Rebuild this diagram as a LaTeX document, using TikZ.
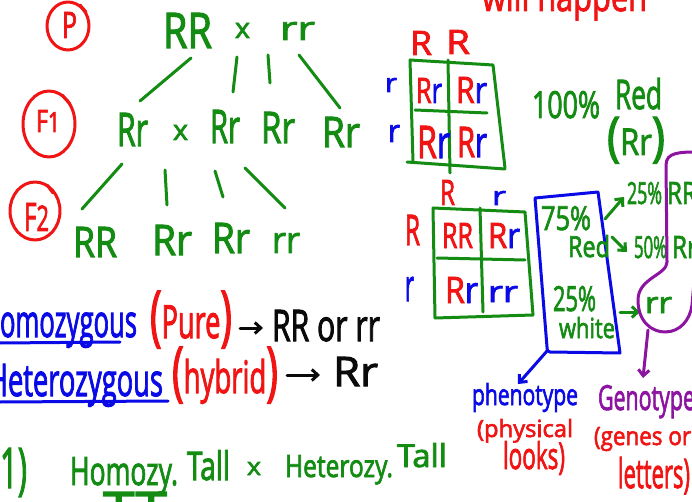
\documentclass[tikz,border=0pt]{standalone}
\usepackage{fontspec}
\setmainfont{Open Sans}[BoldFont={Open Sans}, BoldFeatures={FakeBold=2.5}]
\usepackage{graphicx}
\usetikzlibrary{arrows.meta}

\definecolor{hwgreen}{RGB}{20,140,20}
\definecolor{hwred}{RGB}{240,20,20}
\definecolor{hwblue}{RGB}{10,10,230}
\definecolor{hwpurple}{RGB}{140,20,160}
\definecolor{hwblack}{RGB}{10,10,10}

% marker-style text squeezed into a box of the given width and height (pt)
\newcommand\hwtext[3]{\resizebox{#1pt}{#2pt}{\bfseries #3}}
\newcommand\Rr{{\color{hwred}R}{\color{hwblue}r}}
% tall hand-drawn parentheses
\newcommand\lp{{\Large(}}
\newcommand\rp{{\Large)}}

\tikzset{
  hw/.style={anchor=base west, inner sep=0pt, outer sep=0pt},
  pen/.style={line width=3pt, line cap=round, line join=round},
  tip/.style={-{Straight Barb[length=6pt,width=11pt]}},
}

\begin{document}
\begin{tikzpicture}[x=1pt,y=-1pt]
\useasboundingbox (0,0) rectangle (692,502);
\clip (0,0) rectangle (692,502);
\fill[white] (0,0) rectangle (692,502);

% ---------- generation labels ----------
\draw[pen, hwred] (68,26) ellipse [x radius=21, y radius=24];
\draw[pen, hwred] (80,5) -- (86,12);
\draw[pen, hwred] (49,124) ellipse [x radius=26, y radius=33];
\draw[pen, hwred] (62,95) -- (70,104);
\draw[pen, hwred] (35,211) ellipse [x radius=25, y radius=29];
\draw[pen, hwred] (47,185) -- (53,193);
\node[hw, text=hwred] (labP) at (62,38) {\hwtext{15}{26}{P}};
\node[hw, text=hwred] (labF1) at (36,132) {\hwtext{24}{22}{F{\small 1}}};
\node[hw, text=hwred] (labF2) at (24,231) {\hwtext{25}{28}{F{\small 2}}};

% ---------- cross tree ----------
\node[hw, text=hwgreen] (pRR) at (163,48) {\hwtext{49}{35}{RR}};
\node[hw, text=hwgreen] (px) at (235,38) {\hwtext{15}{15}{x}};
\node[hw, text=hwgreen] (prr) at (280,40) {\hwtext{35}{18}{rr}};

\node[hw, text=hwgreen] (fa) at (117,146) {\hwtext{31}{33}{Rr}};
\node[hw, text=hwgreen] (fx) at (173,140) {\hwtext{15}{15}{x}};
\node[hw, text=hwgreen] (fb) at (210,143) {\hwtext{30}{33}{Rr}};
\node[hw, text=hwgreen] (fc) at (261,143) {\hwtext{34}{31}{Rr}};
\node[hw, text=hwgreen] (fd) at (322,147) {\hwtext{38}{30}{Rr}};

\node[hw, text=hwgreen] (ga) at (73,257) {\hwtext{44}{30}{RR}};
\node[hw, text=hwgreen] (gb) at (152,255) {\hwtext{40}{30}{Rr}};
\node[hw, text=hwgreen] (gc) at (212,253) {\hwtext{38}{30}{Rr}};
\node[hw, text=hwgreen] (gd) at (272,253) {\hwtext{28}{20}{rr}};

\begin{scope}[pen, hwgreen]
  \draw (191,58) -- (140,101);
  \draw (237,57) -- (233,92);
  \draw (268,55) -- (270,83);
  \draw (299,55) -- (340,108);
  \draw (122,164) -- (82,209);
  \draw (165,170) -- (167,205);
  \draw (215,171) -- (223,197);
  \draw (245,168) -- (285,208);
\end{scope}

% ---------- definitions ----------
\node[hw, text=hwblue] (homo) at (0,337) {\hwtext{137}{32}{\llap{H}omozygous}};
\draw[pen, hwblue] (0,343) -- (120,342);
\node[hw, text=hwred] (pure) at (150,338) {\hwtext{82}{47}{\lp Pure\rp}};
\coordinate (a1s) at (240,328);
\coordinate (a1e) at (263,328);
\draw[pen, hwblack, tip] (a1s) -- (a1e);
\node[hw, text=hwblack] (homoeg) at (272,341) {\hwtext{108}{31}{RR or rr}};

\node[hw, text=hwblue] (hetero) at (8,396) {\hwtext{155}{32}{\llap{H}eterozygous}};
\draw[pen, hwblue] (0,402) -- (168,401);
\node[hw, text=hwred] (hybrid) at (172,393) {\hwtext{106}{46}{\lp hybrid\rp}};
\coordinate (a2s) at (287,375);
\coordinate (a2e) at (320,375);
\draw[pen, hwblack, tip] (a2s) -- (a2e);
\node[hw, text=hwblack] (heteroeg) at (333,386) {\hwtext{45}{29}{Rr}};

% ---------- example line ----------
\node[hw, text=hwgreen] (qnum) at (0,488) {\hwtext{27}{40}{1)}};
\node[hw, text=hwgreen] (ex1) at (70,485) {\hwtext{108}{28}{Homozy.}};
\node[hw, text=hwgreen] (ex2) at (187,480) {\hwtext{43}{30}{Tall}};
\node[hw, text=hwgreen] (ex3) at (247,475) {\hwtext{14}{13}{x}};
\node[hw, text=hwgreen] (ex4) at (285,477) {\hwtext{108}{22}{Heterozy.}};
\node[hw, text=hwgreen] (ex5) at (397,467) {\hwtext{50}{24}{Tall}};
\node[hw, text=hwgreen] (ex6) at (103,530) {\hwtext{64}{38}{TT}};

% ---------- top heading ----------
\node[hw, text=hwred] (happen) at (482,11) {\hwtext{165}{30}{will happen}};

% ---------- Punnett square RR x rr ----------
\node[hw, text=hwred] (s1c1) at (410,55) {\hwtext{22}{24}{R}};
\node[hw, text=hwred] (s1c2) at (446,54) {\hwtext{24}{24}{R}};
\node[hw, text=hwblue] (s1r1) at (385,92) {\hwtext{12}{14}{r}};
\node[hw, text=hwblue] (s1r2) at (388,142) {\hwtext{12}{17}{r}};
\begin{scope}[pen, hwgreen]
  \draw (410,60) -- (493,65) -- (505,168);
  \draw (410,60) -- (413,162);
  \draw (407,162) -- (505,169);
  \draw (448,60) -- (450,173);
  \draw (415,110) -- (487,113);
\end{scope}
\node[hw] (s1a) at (416,103) {\hwtext{26}{25}{\Rr}};
\node[hw] (s1b) at (456,103) {\hwtext{31}{26}{\Rr}};
\node[hw] (s1c) at (417,158) {\hwtext{33}{32}{\Rr}};
\node[hw] (s1d) at (457,157) {\hwtext{30}{30}{\Rr}};

\node[hw, text=hwgreen] (hund) at (532,118) {\hwtext{68}{27}{100\%}};
\node[hw, text=hwgreen] (hundred) at (615,109) {\hwtext{47}{31}{Red}};
\node[hw, text=hwgreen] (hundrr) at (607,155) {\hwtext{58}{38}{\lp Rr\rp}};

% ---------- Punnett square Rr x Rr ----------
\node[hw, text=hwred] (s2c1) at (440,205) {\hwtext{15}{25}{R}};
\node[hw, text=hwblue] (s2c2) at (492,205) {\hwtext{14}{14}{r}};
\node[hw, text=hwred] (s2r1) at (405,245) {\hwtext{15}{30}{R}};
\node[hw, text=hwblue] (s2r2) at (405,301) {\hwtext{9}{24}{r}};
\begin{scope}[pen, hwgreen]
  \draw (433,208) -- (525,212) -- (533,315);
  \draw (433,208) -- (435,318) -- (533,315);
  \draw (480,208) -- (483,312);
  \draw (437,258) -- (525,260);
\end{scope}
\node[hw, text=hwred] (s2a) at (442,248) {\hwtext{31}{25}{RR}};
\node[hw] (s2b) at (488,248) {\hwtext{32}{25}{\Rr}};
\node[hw] (s2c) at (445,303) {\hwtext{33}{26}{\Rr}};
\node[hw, text=hwblue] (s2d) at (488,302) {\hwtext{30}{16}{rr}};

% ---------- phenotype box ----------
\draw[pen, hwblue] (535,198) -- (598,192) -- (620,353) -- (550,352)
  .. controls (547,352) and (547,350) .. (547,347) -- cycle;
\node[hw, text=hwgreen] (ph1) at (541,230) {\hwtext{50}{24}{75\%}};
\node[hw, text=hwgreen] (ph2) at (568,257) {\hwtext{42}{22}{Red}};
\node[hw, text=hwgreen] (ph3) at (553,311) {\hwtext{43}{25}{25\%}};
\node[hw, text=hwgreen] (ph4) at (559,338) {\hwtext{56}{21}{white}};
\coordinate (boxcorner) at (547,351);
\coordinate (phend) at (518,384);
\draw[pen, hwblue, tip] (boxcorner) -- (phend);
\node[hw, text=hwblue] (pheno) at (472,405) {\hwtext{106}{22}{phenotype}};
\node[hw, text=hwred] (phys) at (477,437) {\hwtext{96}{18}{(physical}};
\node[hw, text=hwred] (looks) at (503,469) {\hwtext{62}{28}{looks)}};

% ---------- genotype ratios ----------
\node[hw, text=hwgreen] (g1) at (627,204) {\hwtext{35}{22}{25\%}};
\node[hw, text=hwgreen] (g1b) at (667,204) {\hwtext{30}{22}{RR}};
\node[hw, text=hwgreen] (g2) at (634,258) {\hwtext{33}{22}{50\%}};
\node[hw, text=hwgreen] (g2b) at (672,258) {\hwtext{25}{22}{Rr}};
\node[hw, text=hwgreen] (g3) at (645,313) {\hwtext{27}{16}{rr}};
\draw[pen, hwgreen, tip] (605,219) -- (624,197);
\draw[pen, hwgreen, tip] (612,237) -- (627,252);
\draw[pen, hwgreen, tip] (620,312) -- (640,312);

\draw[pen, hwpurple] (700,152) .. controls (680,152) and (666,152) .. (666,165)
  -- (667,262) .. controls (667,275) and (638,278) .. (638,300)
  .. controls (638,322) and (652,332) .. (665,332)
  .. controls (680,332) and (690,320) .. (692,305) -- (695,270);
\coordinate (loopbottom) at (648,330);
\coordinate (genend) at (643,378);
\draw[pen, hwpurple, tip] (loopbottom) -- (genend);
\node[hw, text=hwpurple] (geno) at (598,410) {\hwtext{97}{25}{Genotype}};
\node[hw, text=hwred] (genes) at (594,445) {\hwtext{97}{18}{(genes or}};
\node[hw, text=hwred] (letters) at (618,488) {\hwtext{72}{31}{letters)}};
\end{tikzpicture}
\end{document}
